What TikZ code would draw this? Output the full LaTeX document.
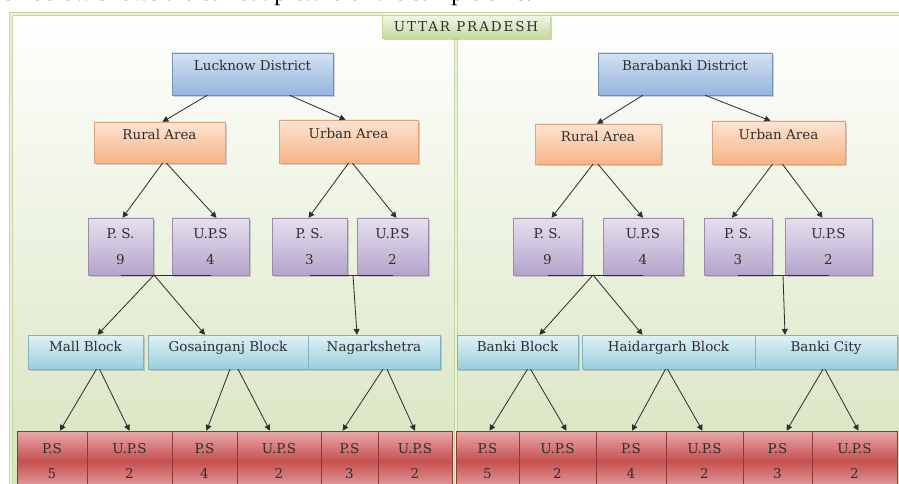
\documentclass[tikz,border=0pt]{standalone}
\usepackage{fontspec}
\setmainfont{DejaVu Serif}
\newfontfamily\pagefont{Liberation Serif}
\usetikzlibrary{arrows.meta,calc,shadows}

\definecolor{ink}{HTML}{2E2E2E}
\definecolor{bgBot}{HTML}{D6E3BC}
\definecolor{frameGreen}{HTML}{C3D69B}
\definecolor{frameLight}{HTML}{EAF1DD}
\definecolor{tabTop}{HTML}{F2F6E9}
\definecolor{tabBot}{HTML}{C6D9A0}
\definecolor{distTop}{HTML}{D3E2F4}
\definecolor{distBot}{HTML}{95B5DD}
\definecolor{areaTop}{HTML}{FDE4D2}
\definecolor{areaBot}{HTML}{F8B486}
\definecolor{psTop}{HTML}{E6E0EE}
\definecolor{psBot}{HTML}{B4A4CB}
\definecolor{blkTop}{HTML}{E0F1F6}
\definecolor{blkBot}{HTML}{98D0DF}
\definecolor{redTop}{HTML}{E9A9A9}
\definecolor{redMid}{HTML}{C65050}
\definecolor{redBot}{HTML}{E8A8A8}

\tikzset{
  sz/.style 2 args={minimum width=#1*0.03cm, minimum height=#2*0.03cm},
  box/.style={inner sep=0pt, text=ink, font=\fontsize{11.5}{13}\selectfont,
    drop shadow={shadow xshift=1.5pt, shadow yshift=-1.5pt, opacity=.35}},
  tab/.style={box, top color=tabTop, bottom color=tabBot, draw=frameGreen},
  distbox/.style={box, top color=distTop, bottom color=distBot, draw=distBot!80!black, line width=.3pt, text height=8pt, text depth=14pt},
  areabox/.style={box, top color=areaTop, bottom color=areaBot, draw=areaBot!90!black, line width=.3pt, text height=8pt, text depth=13pt},
  psbox/.style={box, top color=psTop, bottom color=psBot, draw=psBot!85!black, line width=.3pt, align=center, sz={#1}{57}},
  blkbox/.style={box, top color=blkTop, bottom color=blkBot, draw=blkBot!85!black, line width=.3pt, text height=8pt, text depth=9pt, sz={#1}{34}},
  cell/.style={inner sep=0pt, text=ink, font=\fontsize{11.5}{13}\selectfont, align=center,
    top color=redTop, bottom color=redBot, middle color=redMid, draw=redMid!70!black, line width=.4pt, sz={#1}{60}},
  frameline/.style={draw=frameGreen, line width=.8pt, double=frameLight, double distance=1.4pt},
  arr/.style={draw=ink, line width=.7pt, -{Triangle[width=5pt,length=5pt]}},
  link/.style={draw=ink, line width=.8pt}
}

\begin{document}
\begin{tikzpicture}[x=0.03cm, y=-0.03cm]
\useasboundingbox (0,0) rectangle (899,484);

% page text cut by the top edge
\node[anchor=base west, inner sep=0pt, font=\pagefont\fontsize{21}{24}\selectfont] (pagetext) at (2,0.5)
  {ch below shows a clear-cut picture of the sample size.};

% frame
\shade[top color=white, bottom color=bgBot] (11,14) rectangle (905,500);
\draw[frameline] (11,500) -- (11,14) -- (905,14);
\draw[frameline] (456,38) -- (456,500);
\node[tab, sz={168}{23}, font=\addfontfeature{LetterSpace=14}\fontsize{11.5}{13}\selectfont] (state) at (466,26.5) {UTTAR PRADESH};

% Lucknow
\node[distbox, sz={161}{42}] (ld) at (252.5,74) {Lucknow District};
\node[areabox, sz={131}{41}] (lr) at (159.5,142.5) {Rural Area};
\node[areabox, sz={139}{43}] (lu) at (348.5,141.5) {Urban Area};
\node[psbox=65] (lps1) at (120.5,246.5) {P. S.\\[9pt]9};
\node[psbox=77] (lups1) at (210.5,246.5) {U.P.S\\[9pt]4};
\node[psbox=75] (lps2) at (309.5,246.5) {P. S.\\[9pt]3};
\node[psbox=71] (lups2) at (392.5,246.5) {U.P.S\\[9pt]2};
\node[blkbox=115] (lb1) at (85.5,352) {Mall Block};
\node[blkbox=160] (lb2) at (228,352) {Gosainganj Block};
\node[blkbox=132] (lb3) at (374,352) {Nagarkshetra};
\node[cell=70] (lc1) at (52,461) {P.S\\[8pt]5};
\node[cell=85] (lc2) at (129.5,461) {U.P.S\\[8pt]2};
\node[cell=65] (lc3) at (204.5,461) {P.S\\[8pt]4};
\node[cell=84] (lc4) at (279,461) {U.P.S\\[8pt]2};
\node[cell=57] (lc5) at (349.5,461) {P.S\\[8pt]3};
\node[cell=74] (lc6) at (415,461) {U.P.S\\[8pt]2};

% Barabanki
\node[distbox, sz={174}{42}] (rd) at (685,74) {Barabanki District};
\node[areabox, sz={126}{40}] (rr) at (598,144) {Rural Area};
\node[areabox, sz={133}{43}] (ru) at (778.5,142.5) {Urban Area};
\node[psbox=69] (rps1) at (547.5,246.5) {P. S.\\[9pt]9};
\node[psbox=80] (rups1) at (643,246.5) {U.P.S\\[9pt]4};
\node[psbox=68] (rps2) at (738,246.5) {P. S.\\[9pt]3};
\node[psbox=87] (rups2) at (828.5,246.5) {U.P.S\\[9pt]2};
\node[blkbox=121] (rb1) at (517.5,352) {Banki Block};
\node[blkbox=173] (rb2) at (668.5,352) {Haidargarh Block};
\node[blkbox=142] (rb3) at (826,352) {Banki City};
\node[cell=63] (rc1) at (487.5,461) {P.S\\[8pt]5};
\node[cell=77] (rc2) at (557.5,461) {U.P.S\\[8pt]2};
\node[cell=70] (rc3) at (631,461) {P.S\\[8pt]4};
\node[cell=77] (rc4) at (704.5,461) {U.P.S\\[8pt]2};
\node[cell=69] (rc5) at (777.5,461) {P.S\\[8pt]3};
\node[cell=85] (rc6) at (854.5,461) {U.P.S\\[8pt]2};

% junctions under the P.S. / U.P.S pairs
\coordinate (lj1) at (154,275);
\coordinate (lj2) at (353,275);
\coordinate (rj1) at (593,275);
\coordinate (rj2) at (783,275);
\draw[link] (lps1.south) -- (lups1.south);
\draw[link] (lps2.south) -- (lups2.south);
\draw[link] (rps1.south) -- (rups1.south);
\draw[link] (rps2.south) -- (rups2.south);

% arrows, Lucknow
\draw[arr] ($(ld.south)+(-45,0)$) -- ($(lr.north)+(3,0)$);
\draw[arr] ($(ld.south)+(37,0)$) -- ($(lu.north)+(-3,0)$);
\draw[arr] ($(lr.south)+(3,0)$) -- ($(lps1.north)+(2,0)$);
\draw[arr] ($(lr.south)+(7,0)$) -- ($(lups1.north)+(6,0)$);
\draw[arr] (lu.south) -- ($(lps2.north)+(-1,0)$);
\draw[arr] ($(lu.south)+(4,0)$) -- ($(lups2.north)+(4,0)$);
\draw[arr] (lj1) -- ($(lb1.north)+(12,0)$);
\draw[arr] (lj1) -- ($(lb2.north)+(-23,0)$);
\draw[arr] (lj2) -- ($(lb3.north)+(-17,0)$);
\draw[arr] ($(lb1.south)+(11,0)$) -- ($(lc1.north)+(8,0)$);
\draw[arr] ($(lb1.south)+(14,0)$) -- (lc2.north);
\draw[arr] ($(lb2.south)+(2,0)$) -- ($(lc3.north)+(2,0)$);
\draw[arr] ($(lb2.south)+(10,0)$) -- ($(lc4.north)+(-9,0)$);
\draw[arr] ($(lb3.south)+(9,0)$) -- ($(lc5.north)+(-7,0)$);
\draw[arr] ($(lb3.south)+(13,0)$) -- (lc6.north);

% arrows, Barabanki
\draw[arr] ($(rd.south)+(-42,0)$) -- ($(rr.north)+(-1,0)$);
\draw[arr] ($(rd.south)+(20,0)$) -- ($(ru.north)+(-8,0)$);
\draw[arr] ($(rr.south)+(-5,0)$) -- ($(rps1.north)+(4,0)$);
\draw[arr] (rr.south) -- (rups1.north);
\draw[arr] ($(ru.south)+(-6,0)$) -- ($(rps2.north)+(-6,0)$);
\draw[arr] ($(ru.south)+(4,0)$) -- ($(rups2.north)+(-6,0)$);
\draw[arr] (rj1) -- ($(rb1.north)+(22,0)$);
\draw[arr] (rj1) -- ($(rb2.north)+(-26,0)$);
\draw[arr] (rj2) -- ($(rb3.north)+(-41,0)$);
\draw[arr] ($(rb1.south)+(10,0)$) -- ($(rc1.north)+(2,0)$);
\draw[arr] ($(rb1.south)+(13,0)$) -- ($(rc2.north)+(9,0)$);
\draw[arr] ($(rb2.south)+(-3,0)$) -- ($(rc3.north)+(1,0)$);
\draw[arr] ($(rb2.south)+(-1,0)$) -- ($(rc4.north)+(-2,0)$);
\draw[arr] ($(rb3.south)+(-3,0)$) -- ($(rc5.north)+(9,0)$);
\draw[arr] ($(rb3.south)+(-1,0)$) -- ($(rc6.north)+(4,0)$);
\end{tikzpicture}
\end{document}
